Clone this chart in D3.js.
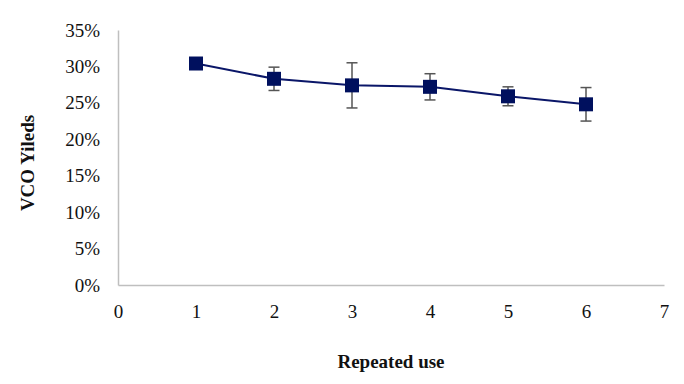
<!DOCTYPE html>
<html>
<head>
<meta charset="utf-8">
<script src="https://cdn.jsdelivr.net/npm/d3@7"></script>
<style>
  body { margin: 0; background: #fff; }
</style>
</head>
<body>
<div id="chart"></div>
<script>
// data
var uses = [1, 2, 3, 4, 5, 6];
var yields = [0.304, 0.283, 0.274, 0.272, 0.259, 0.248];
var errors = [0.000, 0.016, 0.031, 0.018, 0.013, 0.023];
var xTicks = [0, 1, 2, 3, 4, 5, 6, 7];
var yTicks = [0, 0.05, 0.10, 0.15, 0.20, 0.25, 0.30, 0.35];

var width = 684, height = 384;
var margin = {top: 30, right: 20, bottom: 99, left: 118};
var serif = "'Liberation Serif', 'DejaVu Serif', serif";

var svg = d3.select("#chart").append("svg")
  .attr("width", width)
  .attr("height", height)
  .attr("font-family", serif);

var x = d3.scaleLinear().domain([0, 7]).range([margin.left, width - margin.right]);
var y = d3.scaleLinear().domain([0, 0.35]).range([height - margin.bottom, margin.top]);

// y axis
var yAxis = svg.append("g")
  .attr("transform", "translate(" + margin.left + ",0)")
  .call(d3.axisLeft(y).tickValues(yTicks).tickSize(0).tickPadding(18).tickFormat(d3.format(".0%")));
yAxis.attr("font-family", serif).attr("font-size", 19);
yAxis.select(".domain").attr("stroke", "#bfbfbf").attr("stroke-width", 1.5);
yAxis.selectAll("text").attr("fill", "#111");

// x axis
var xAxis = svg.append("g")
  .attr("transform", "translate(0," + y(0) + ")")
  .call(d3.axisBottom(x).tickValues(xTicks).tickSize(0).tickPadding(20).tickFormat(d3.format("d")));
xAxis.attr("font-family", serif).attr("font-size", 19);
xAxis.select(".domain").attr("stroke", "#bfbfbf").attr("stroke-width", 1.5);
xAxis.selectAll("text").attr("fill", "#111");

// axis titles
svg.append("text")
  .attr("x", (x(0) + x(7)) / 2)
  .attr("y", 368)
  .attr("text-anchor", "middle")
  .attr("font-size", 19)
  .attr("font-weight", "bold")
  .attr("fill", "#111")
  .text("Repeated use");

svg.append("text")
  .attr("transform", "translate(34,163) rotate(-90)")
  .attr("text-anchor", "middle")
  .attr("font-size", 19)
  .attr("font-weight", "bold")
  .attr("fill", "#111")
  .text("VCO Yileds");

var pts = uses.map(function(u, i) { return {u: u, v: yields[i], e: errors[i]}; });

// error bars
var eb = svg.append("g").attr("stroke", "#555").attr("stroke-width", 1.5);
pts.filter(function(d) { return d.e > 0; }).forEach(function(d) {
  eb.append("line").attr("x1", x(d.u)).attr("x2", x(d.u)).attr("y1", y(d.v - d.e)).attr("y2", y(d.v + d.e));
  eb.append("line").attr("x1", x(d.u) - 5.5).attr("x2", x(d.u) + 5.5).attr("y1", y(d.v + d.e)).attr("y2", y(d.v + d.e));
  eb.append("line").attr("x1", x(d.u) - 5.5).attr("x2", x(d.u) + 5.5).attr("y1", y(d.v - d.e)).attr("y2", y(d.v - d.e));
});

// line
svg.append("path")
  .datum(pts)
  .attr("fill", "none")
  .attr("stroke", "#0a1668")
  .attr("stroke-width", 2)
  .attr("d", d3.line().x(function(d) { return x(d.u); }).y(function(d) { return y(d.v); }));

// square markers
svg.selectAll("rect.pt")
  .data(pts)
  .enter().append("rect")
  .attr("class", "pt")
  .attr("x", function(d) { return x(d.u) - 7; })
  .attr("y", function(d) { return y(d.v) - 7; })
  .attr("width", 14)
  .attr("height", 14)
  .attr("fill", "#00105e");
</script>
</body>
</html>
